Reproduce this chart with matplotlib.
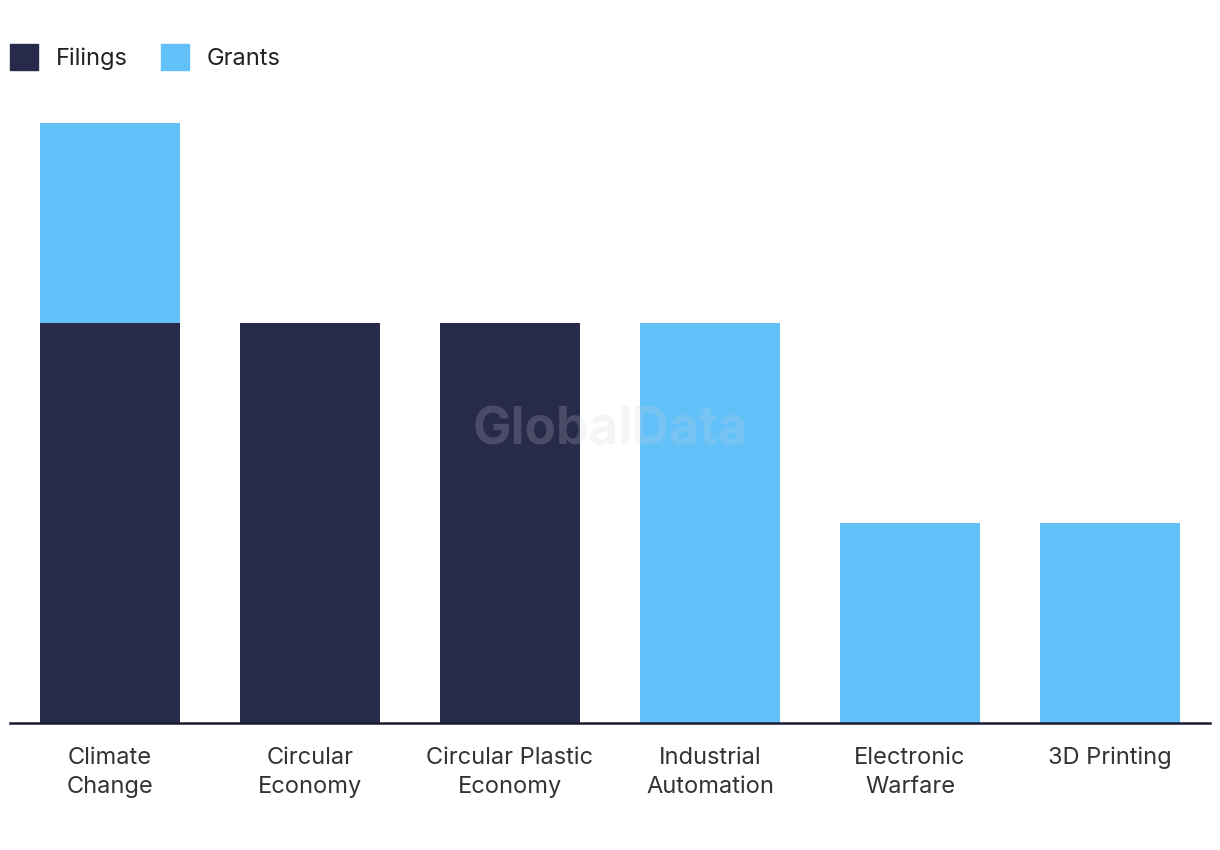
import matplotlib
matplotlib.use("Agg")
import matplotlib.pyplot as plt
from matplotlib.patches import Patch

categories = ["Climate\nChange", "Circular\nEconomy", "Circular Plastic\nEconomy",
              "Industrial\nAutomation", "Electronic\nWarfare", "3D Printing"]
filings = [2, 2, 2, 0, 0, 0]
grants = [1, 0, 0, 2, 1, 1]

dark = "#282a4c"
light = "#62c1f8"

plt.rcParams["font.family"] = ["Inter", "DejaVu Sans"]

fig = plt.figure(figsize=(12.2, 8.5), dpi=100)
ax = fig.add_axes([10 / 1220, 127 / 850, 1200 / 1220, 600 / 850])

x = range(len(categories))
ax.bar(x, filings, width=0.7, color=dark)
ax.bar(x, grants, width=0.7, bottom=filings, color=light)

ax.set_xlim(-0.5, len(categories) - 0.5)
ax.set_ylim(0, 3)
ax.set_yticks([])
ax.set_xticks(list(x))
ax.set_xticklabels(categories, fontsize=17, color="#333333", linespacing=1.45)
ax.tick_params(axis="x", length=0, pad=17)
for s in ["top", "right", "left"]:
    ax.spines[s].set_visible(False)
ax.spines["bottom"].set_color("#1a1a2e")
ax.spines["bottom"].set_linewidth(1.8)

ax.text(0.5, 0.487, "GlobalData", transform=ax.transAxes, ha="center", va="center",
        fontsize=37, fontweight="bold", color="#d0d0d8", alpha=0.2, zorder=5)

handles = [Patch(color=dark, label="Filings"), Patch(color=light, label="Grants")]
fig.legend(handles=handles, loc="upper left", bbox_to_anchor=(10 / 1220, 1 - 44 / 850), ncol=2,
           frameon=False, fontsize=17, handlelength=1.2, handleheight=1.3,
           handletextpad=0.75, columnspacing=1.4, labelcolor="#222222",
           borderpad=0, borderaxespad=0)

fig.savefig("out.png", dpi=100)
